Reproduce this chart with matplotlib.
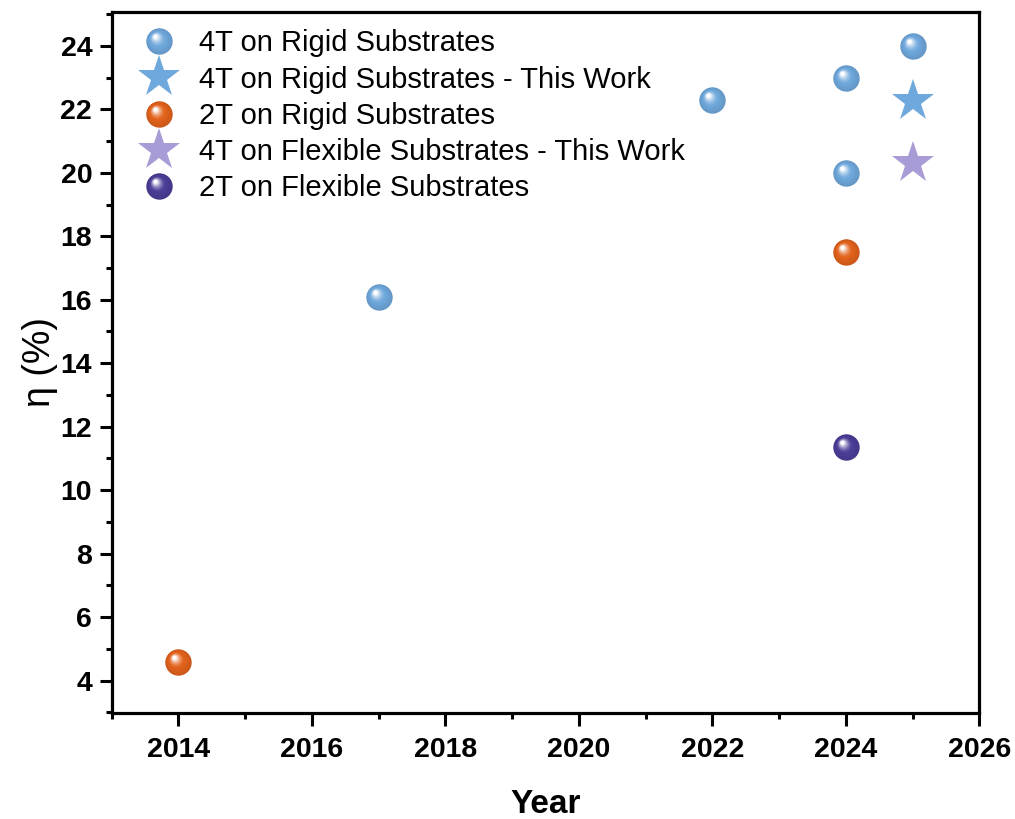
import numpy as np
import matplotlib
matplotlib.use("Agg")
import matplotlib.pyplot as plt
from matplotlib.path import Path
from matplotlib.markers import MarkerStyle
from matplotlib.legend_handler import HandlerTuple
from matplotlib.ticker import MultipleLocator
from matplotlib.colors import to_rgb

plt.rcParams['font.family'] = ['Liberation Sans', 'DejaVu Sans']

# Data
rigid4_year = [2017, 2022, 2024, 2024, 2025]
rigid4_eff = [16.1, 22.3, 23.0, 20.0, 24.0]
rigid4_tw_year = [2025]
rigid4_tw_eff = [22.25]
rigid2_year = [2014, 2024]
rigid2_eff = [4.6, 17.5]
flex4_tw_year = [2025]
flex4_tw_eff = [20.3]
flex2_year = [2024]
flex2_eff = [11.35]

labels = ["4T on Rigid Substrates",
          "4T on Rigid Substrates - This Work",
          "2T on Rigid Substrates",
          "4T on Flexible Substrates - This Work",
          "2T on Flexible Substrates"]

c_blue = "#6fa8dc"
c_orange = "#e2621b"
c_lilac = "#a99bd5"
c_purple = "#4b3e98"


def layer_marker(radius, cx, cy):
    circ = Path.circle((cx, cy), radius)
    verts = np.vstack([[1.0, 0.0], circ.vertices])
    codes = np.concatenate([[Path.MOVETO], circ.codes])
    return MarkerStyle(Path(verts, codes))


def sphere_layers(color, n=14):
    base = np.array(to_rgb(color))
    dark = base * 0.9
    layers = []
    for i in range(n):
        t = i / (n - 1)
        r = 1.0 - 0.85 * t
        cx, cy = -0.30 * t, 0.36 * t
        if t < 0.45:
            col = dark + (base - dark) * (t / 0.45)
        else:
            s = ((t - 0.45) / 0.55) ** 1.5
            col = base + (np.ones(3) - base) * s
        layers.append((layer_marker(r, cx, cy), tuple(np.clip(col, 0, 1))))
    return layers


def plot_spheres(ax, x, y, color, ms):
    handles = []
    for i, (mk, col) in enumerate(sphere_layers(color)):
        h, = ax.plot(x, y, linestyle='none', marker=mk, markersize=ms,
                     markerfacecolor=col, markeredgewidth=0, zorder=3 + i * 0.01)
        handles.append(h)
    return tuple(handles)


fig = plt.figure(figsize=(10.15, 8.19), dpi=100)
ax = fig.add_axes([0.110, 0.1295, 0.855, 0.856])

ms_ball = 19
h1 = plot_spheres(ax, rigid4_year, rigid4_eff, c_blue, ms_ball)
h2, = ax.plot(rigid4_tw_year, rigid4_tw_eff, linestyle='none', marker='*',
              markersize=32, color=c_blue, markeredgewidth=0, zorder=4)
h3 = plot_spheres(ax, rigid2_year, rigid2_eff, c_orange, ms_ball)
h4, = ax.plot(flex4_tw_year, flex4_tw_eff, linestyle='none', marker='*',
              markersize=32, color=c_lilac, markeredgewidth=0, zorder=4)
h5 = plot_spheres(ax, flex2_year, flex2_eff, c_purple, ms_ball)

ax.set_xlim(2013, 2026)
ax.set_ylim(2.98, 25.07)
ax.xaxis.set_minor_locator(MultipleLocator(1))
ax.yaxis.set_minor_locator(MultipleLocator(1))
ax.set_yticks(np.arange(4, 25, 2))
ax.set_xticks(np.arange(2014, 2027, 2))

for sp in ax.spines.values():
    sp.set_linewidth(2.3)
ax.tick_params(which='major', direction='out', length=9, width=2.2,
               labelsize=20.5, pad=5)
ax.tick_params(which='minor', direction='out', length=4.5, width=2.2)
ax.tick_params(axis='x', which='major', pad=8)
for lab in ax.get_xticklabels() + ax.get_yticklabels():
    lab.set_fontweight('bold')

ax.set_xlabel("Year", fontsize=24, fontweight='bold', labelpad=19)
ax.set_ylabel("η (%)", fontsize=27, labelpad=2)

ax.legend([h1, h2, h3, h4, h5], labels,
          handler_map={tuple: HandlerTuple(ndivide=1, pad=0)},
          loc='upper left', bbox_to_anchor=(0.012, 1.0), frameon=False,
          fontsize=21, handlelength=1.3, handletextpad=0.75,
          labelspacing=0.28, borderaxespad=0.2)

fig.savefig("out.png", dpi=100)
